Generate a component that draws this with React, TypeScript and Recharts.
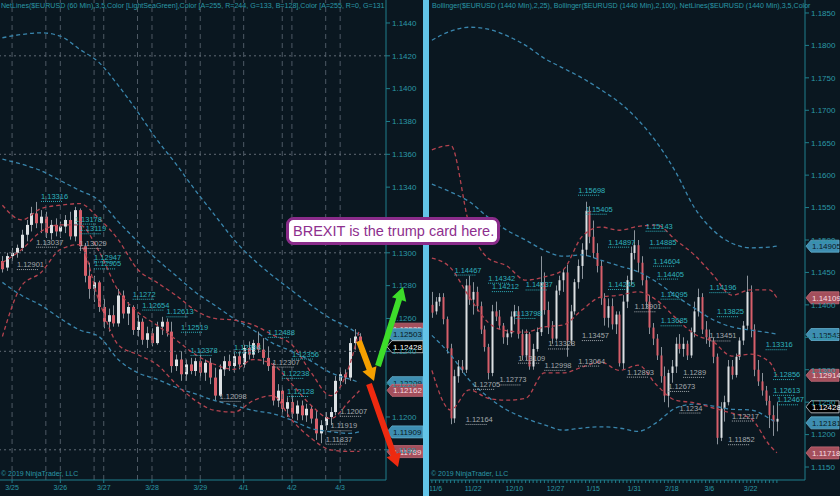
import React from 'react'
import { ComposedChart, Bar, Line, XAxis, YAxis, ReferenceLine, ReferenceDot } from 'recharts'

const BG = '#0a1720'
const TEAL = '#2a97a6'
const AXIS = '#1f7f8c'
const GREY_TXT = '#a3a8ad'
const FONT = '"Liberation Sans", Arial, sans-serif'

// ---- 60 min panel (prices as pips above 1.1100), [open, high, low, close]
const leftOhlc = [
  [195, 198, 188, 190], [191, 200, 189, 198], [198, 203, 195, 200], [200, 205, 197, 203],
  [203, 214, 201, 211], [211, 220, 207, 217], [217, 228, 213, 224], [224, 231, 215, 218],
  [218, 226, 212, 222], [222, 225, 209, 212], [212, 220, 208, 217], [217, 221, 210, 213],
  [213, 219, 209, 216], [216, 223, 212, 220], [220, 225, 208, 210], [210, 228, 207, 226],
  [226, 227, 201, 204], [204, 206, 182, 186], [186, 194, 172, 178], [178, 186, 170, 182],
  [182, 183, 164, 167], [167, 172, 154, 158], [158, 166, 152, 162], [162, 168, 155, 157],
  [157, 178, 155, 174], [174, 177, 160, 163], [163, 170, 156, 167], [167, 168, 150, 153],
  [153, 162, 149, 158], [158, 160, 144, 147], [147, 155, 142, 151], [151, 154, 143, 145],
  [145, 158, 144, 155], [155, 161, 150, 158], [158, 160, 149, 152], [152, 158, 127, 131],
  [131, 138, 128, 135], [135, 140, 122, 126], [126, 135, 122, 132], [132, 136, 126, 128],
  [128, 136, 125, 134], [134, 138, 124, 127], [127, 135, 122, 133], [133, 136, 120, 124],
  [124, 130, 110, 113], [113, 132, 112, 129], [129, 137, 125, 134], [134, 138, 128, 131],
  [131, 139, 127, 137], [137, 140, 129, 132], [132, 144, 130, 142], [142, 146, 135, 138],
  [138, 147, 136, 145], [145, 152, 139, 141], [141, 148, 132, 136], [136, 143, 128, 131],
  [131, 133, 107, 110], [110, 120, 106, 116], [116, 118, 102, 105], [105, 112, 100, 109],
  [109, 113, 99, 102], [102, 110, 98, 107], [107, 110, 98, 101], [101, 108, 97, 105],
  [105, 107, 96, 99], [99, 104, 86, 90], [90, 98, 84, 95], [95, 103, 92, 100],
  [100, 106, 95, 103], [103, 125, 101, 122], [122, 130, 118, 126], [126, 129, 120, 124],
  [124, 148, 122, 145], [145, 153.5, 141, 149], [149, 151, 141, 142.8],
]
const leftSlotCount = 80
const leftDates = ['3/25', '3/26', '3/27', '3/28', '3/29', '4/1', '4/2', '4/3']
const leftDateSlots = [2, 12, 21, 31, 41, 50, 60, 70]
const leftSessionSlots = [9, 19, 28, 38, 48, 58, 67]
const leftBandSlots = [0, 4, 8, 12, 16, 20, 24, 28, 32, 36, 40, 44, 48, 52, 56, 60, 64, 68, 72, 74]
const leftBlueUpper = [331, 333, 334, 332, 324, 316, 302, 286, 269, 254, 238, 223, 208, 196, 186, 177, 168, 160, 154, 150]
const leftBlueMid = [257, 254, 250, 244, 238, 232, 219, 207, 196, 186, 176, 168, 160, 153, 145, 140, 134, 127, 123, 121]
const leftBlueLower = [182, 174, 168, 160, 153, 149, 135, 127, 123, 118, 114, 110, 107, 104, 102, 98, 93, 91, 90, 91]
const leftRedUpper = [229, 220, 227, 229, 230, 221, 208, 190, 182, 174, 165, 160, 159, 156, 150, 144, 127, 113, 132, 153.5]
const leftRedMid = [194, 202, 213, 217, 217, 201, 177, 164, 156, 147, 138, 132, 129, 135, 132, 120, 107, 99, 110, 116]
const leftRedLower = [149, 180, 188, 202, 205, 171, 144, 138, 132, 120, 110, 104, 103, 110, 113, 98, 87, 80, 79, 79]
const leftTicks = [1.118, 1.12, 1.122, 1.124, 1.126, 1.128, 1.13, 1.132, 1.134, 1.136, 1.138, 1.14, 1.142, 1.144]
const leftGrid = [1.142, 1.136, 1.13, 1.124, 1.118]
const leftTags: [number, string][] = [
  [1.12535, 'red'], [1.12503, 'blue'], [1.12428, 'black'], [1.12209, 'blue'],
  [1.12162, 'red'], [1.11909, 'blue'], [1.11789, 'red'],
]
const leftNotes: [number, number, string][] = [
  [8, 1.13316, 'teal'], [15, 1.13178, 'teal'], [16, 1.13119, 'teal'], [19, 1.12947, 'teal'],
  [19, 1.12905, 'teal'], [27, 1.1272, 'teal'], [29, 1.12654, 'teal'], [34, 1.12613, 'teal'],
  [37, 1.12519, 'teal'], [39, 1.12378, 'teal'], [48, 1.12394, 'teal'], [55, 1.12488, 'teal'],
  [58, 1.12238, 'teal'], [60, 1.12356, 'teal'], [59, 1.12128, 'teal'],
  [3, 1.12901, 'grey'], [7, 1.13037, 'grey'], [16, 1.13029, 'grey'], [45, 1.12098, 'grey'],
  [56, 1.12307, 'grey'], [67, 1.11837, 'grey'], [68, 1.11919, 'grey'], [70, 1.12007, 'grey'],
]

// ---- 1440 min panel (pips above 1.1100)
const rightOhlc = [
  [300, 320, 280, 288], [290, 312, 285, 305], [305, 318, 298, 312], [312, 318, 270, 278],
  [278, 282, 225, 233], [233, 240, 116, 125], [125, 200, 118, 190], [190, 215, 180, 205],
  [205, 215, 195, 200], [200, 340, 195, 330], [330, 345, 300, 308], [308, 335, 285, 320],
  [320, 328, 290, 298], [298, 305, 255, 262], [262, 268, 228, 235], [235, 240, 185, 195],
  [195, 300, 190, 290], [290, 305, 275, 282], [282, 292, 262, 268], [268, 272, 240, 250],
  [250, 262, 238, 256], [256, 290, 250, 282], [282, 300, 270, 290], [290, 298, 248, 255],
  [255, 262, 215, 222], [222, 262, 215, 255], [255, 258, 200, 205], [205, 240, 200, 232],
  [232, 265, 228, 258], [258, 375, 252, 335], [335, 350, 285, 292], [292, 305, 255, 265],
  [265, 275, 240, 248], [248, 330, 245, 322], [322, 345, 315, 338], [338, 355, 320, 350],
  [350, 362, 220, 245], [245, 300, 238, 290], [290, 340, 285, 335], [335, 370, 325, 360],
  [360, 395, 340, 385], [385, 459, 375, 445], [445, 452, 395, 405], [405, 430, 372, 380],
  [380, 395, 350, 360], [360, 368, 300, 310], [310, 318, 268, 280], [280, 310, 265, 298],
  [298, 310, 262, 270], [270, 290, 255, 285], [285, 290, 205, 210], [210, 315, 200, 305],
  [305, 345, 295, 338], [338, 390, 330, 380], [380, 415, 370, 392], [392, 400, 350, 365],
  [365, 375, 330, 338], [338, 345, 295, 305], [305, 315, 255, 265], [265, 272, 238, 248],
  [248, 255, 215, 222], [222, 235, 180, 190], [190, 205, 150, 160], [160, 200, 142, 195],
  [195, 215, 180, 205], [205, 250, 195, 240], [240, 255, 225, 232], [232, 250, 220, 240],
  [240, 245, 215, 222], [222, 265, 218, 258], [258, 305, 250, 290], [290, 325, 282, 312],
  [312, 318, 255, 262], [262, 275, 240, 250], [250, 262, 235, 245], [245, 250, 210, 220],
  [220, 225, 85, 95], [95, 150, 90, 140], [140, 160, 120, 150], [150, 215, 145, 205],
  [205, 215, 185, 192], [192, 225, 188, 220], [220, 250, 215, 245], [245, 275, 238, 268],
  [268, 345, 262, 320], [320, 330, 250, 262], [262, 270, 190, 200], [200, 215, 175, 182],
  [182, 195, 160, 168], [168, 175, 145, 152], [152, 160, 110, 130], [130, 145, 98, 120],
  [120, 150, 105, 124.3],
]
const rightSlotCount = 100
const rightDates = ['11/6', '11/22', '12/10', '12/27', '1/15', '1/31', '2/18', '3/6', '3/22']
const rightDateSlots = [1, 11, 22, 33, 43, 54, 64, 74, 85]
const rightBandSlots = [0, 5, 10, 15, 20, 25, 30, 35, 40, 45, 50, 55, 60, 65, 70, 75, 80, 85, 90, 92]
const rightBlueUpper = [708, 722, 728, 725, 715, 700, 680, 665, 650, 632, 612, 585, 550, 505, 450, 415, 395, 388, 389, 390.5]
const rightBlueMid = [486, 474, 459, 435, 415, 400, 384, 375, 377, 369, 360, 351, 335, 314, 295, 277, 266, 261, 257, 255]
const rightBlueLower = [253, 223, 184, 158, 138, 125, 115, 107, 110, 112, 110, 105, 119, 141, 147, 144, 139, 138, 125, 118]
const rightRedUpper = [539, 546, 423, 372, 360, 338, 343, 354, 405, 420, 415, 421, 423, 400, 377, 346, 315, 323, 323, 311]
const rightRedMid = [372, 357, 312, 273, 260, 258, 266, 269, 292, 312, 315, 320, 307, 280, 255, 243, 221, 224, 212, 191]
const rightRedLower = [199, 138, 169, 156, 153, 156, 195, 195, 204, 212, 199, 207, 176, 153, 149, 141, 133, 125, 84, 72]
const rightTicks = [1.115, 1.12, 1.125, 1.13, 1.135, 1.14, 1.145, 1.15, 1.155, 1.16, 1.165, 1.17, 1.175, 1.18, 1.185]
const rightTags: [number, string][] = [
  [1.14905, 'blue'], [1.14109, 'red'], [1.13543, 'blue'], [1.12914, 'red'],
  [1.12428, 'black'], [1.12181, 'blue'], [1.11718, 'red'],
]
const rightNotes: [number, number, string][] = [
  [39, 1.15698, 'teal'], [41, 1.15405, 'teal'], [57, 1.15143, 'teal'], [47, 1.14897, 'teal'],
  [58, 1.14885, 'teal'], [59, 1.14604, 'teal'], [60, 1.14405, 'teal'], [6, 1.14467, 'teal'],
  [15, 1.14342, 'teal'], [16, 1.14212, 'teal'], [25, 1.14237, 'teal'], [47, 1.14245, 'teal'],
  [61, 1.14095, 'teal'], [74, 1.14196, 'teal'], [76, 1.13825, 'teal'], [22, 1.13798, 'teal'],
  [61, 1.13685, 'teal'], [89, 1.13316, 'teal'], [91, 1.12856, 'teal'], [91, 1.12613, 'teal'],
  [92, 1.12467, 'teal'],
  [54, 1.13901, 'grey'], [52, 1.12893, 'grey'], [67, 1.1289, 'grey'], [63, 1.12673, 'grey'],
  [66, 1.1234, 'grey'], [80, 1.12217, 'grey'], [79, 1.11852, 'grey'], [74, 1.13451, 'grey'],
  [30, 1.12998, 'grey'], [39, 1.13064, 'grey'], [23, 1.13109, 'grey'], [18, 1.12773, 'grey'],
  [11, 1.12705, 'grey'], [9, 1.12164, 'grey'], [40, 1.13457, 'grey'], [31, 1.13328, 'grey'],
]

const pip = (v: number) => 1.11 + v / 10000

function buildRows(ohlc: number[][], slots: number, bandSlots: number[], bands: Record<string, number[]>) {
  const rows: any[] = []
  for (let i = 0; i < slots; i++) {
    const row: any = { i }
    const b = ohlc[i]
    if (b) {
      row.o = pip(b[0]); row.h = pip(b[1]); row.l = pip(b[2]); row.c = pip(b[3])
      row.range = [row.l, row.h]
    }
    const k = bandSlots.indexOf(i)
    if (k >= 0) for (const key in bands) row[key] = pip(bands[key][k])
    rows.push(row)
  }
  return rows
}

const leftRows = buildRows(leftOhlc, leftSlotCount, leftBandSlots, {
  bu: leftBlueUpper, bm: leftBlueMid, bl: leftBlueLower, ru: leftRedUpper, rm: leftRedMid, rl: leftRedLower,
})
const rightRows = buildRows(rightOhlc, rightSlotCount, rightBandSlots, {
  bu: rightBlueUpper, bm: rightBlueMid, bl: rightBlueLower, ru: rightRedUpper, rm: rightRedMid, rl: rightRedLower,
})

const candleShape = (bodyW: number) => (props: any) => {
  const { x, y, width, height } = props
  const d = props.payload ?? props
  if (!d || d.o == null || !isFinite(y) || !isFinite(height)) return <g />
  const top = Math.min(y, y + height)
  const span = Math.abs(height)
  const k = d.h - d.l > 0 ? span / (d.h - d.l) : 0
  const py = (v: number) => top + (d.h - v) * k
  const cx = Math.round(x + width / 2) + 0.5
  const up = d.c >= d.o
  const bTop = py(Math.max(d.o, d.c))
  const bBot = py(Math.min(d.o, d.c))
  return (
    <g>
      <line x1={cx} x2={cx} y1={top} y2={top + span} stroke="#8b939b" strokeWidth={1} />
      <rect x={cx - bodyW / 2} y={bTop} width={bodyW} height={Math.max(1, bBot - bTop)}
        fill={up ? '#dde1e4' : '#d75f6a'} />
    </g>
  )
}

const tagColors: Record<string, { fill: string; text: string; stroke: string }> = {
  red: { fill: '#a44f5c', text: '#f6dde0', stroke: '#c46b77' },
  blue: { fill: '#3e8eb1', text: '#0a1822', stroke: '#62aecb' },
  black: { fill: '#000000', text: '#ffffff', stroke: '#cfd4d8' },
}

const tagLabel = (price: number, kind: string, w: number) => (p: any) => {
  const vb = p.viewBox
  if (!vb) return null
  const x0 = vb.x + vb.width
  const y = vb.y
  const s = tagColors[kind]
  return (
    <g>
      <path d={`M${x0 + 1},${y} L${x0 + 6},${y - 6} L${x0 + w},${y - 6} L${x0 + w},${y + 6} L${x0 + 6},${y + 6} Z`}
        fill={s.fill} stroke={s.stroke} strokeWidth={0.8} />
      <text x={x0 + 7} y={y + 3} fill={s.text} fontSize={8} fontFamily={FONT}>{price.toFixed(5)}</text>
    </g>
  )
}

const noteShape = (value: number, kind: string) => (p: any) => {
  const { cx, cy } = p
  if (!isFinite(cx) || !isFinite(cy)) return <g />
  const col = kind === 'teal' ? '#2fb1bd' : GREY_TXT
  return (
    <g>
      <text x={cx} y={cy - 2} fill={col} fontSize={7.5} fontFamily={FONT}>{String(value)}</text>
      <line x1={cx} x2={cx + 21} y1={cy + 0.5} y2={cy + 0.5} stroke={col} strokeDasharray="1 1" strokeWidth={1} />
    </g>
  )
}

const RightDateTick = (p: any) => {
  const k = rightDateSlots.indexOf(p.payload?.value)
  if (k < 0) return <g />
  return (
    <text x={p.x} y={p.y + 6} textAnchor="middle" fill={TEAL} fontSize={7} fontFamily={FONT}>{rightDates[k]}</text>
  )
}

const bandLine = (key: string, color: string) => (
  <Line key={key} dataKey={key} stroke={color} strokeWidth={1.3} strokeDasharray="4 3" dot={false}
    activeDot={false} connectNulls type="monotone" isAnimationActive={false} />
)

function Arrow({ x1, y1, x2, y2, color }: { x1: number; y1: number; x2: number; y2: number; color: string }) {
  const dx = x2 - x1, dy = y2 - y1
  const len = Math.hypot(dx, dy)
  const ux = dx / len, uy = dy / len
  const nx = -uy, ny = ux
  const head = 13, hw = 7.5, sw = 3
  const bx = x2 - ux * head, by = y2 - uy * head
  const pts = [
    [x1 + nx * sw, y1 + ny * sw], [bx + nx * sw, by + ny * sw], [bx + nx * hw, by + ny * hw], [x2, y2],
    [bx - nx * hw, by - ny * hw], [bx - nx * sw, by - ny * sw], [x1 - nx * sw, y1 - ny * sw],
  ]
  return <polygon points={pts.map((q) => q.join(',')).join(' ')} fill={color} />
}

export default function App() {
  const tickStyle = { fill: TEAL, fontSize: 8, fontFamily: FONT }
  const legendStyle: React.CSSProperties = {
    position: 'absolute', top: 1, whiteSpace: 'nowrap', color: TEAL, fontSize: 7.1, fontFamily: FONT, lineHeight: '10px',
  }
  return (
    <div style={{ position: 'absolute', left: 0, top: 0, width: 840, height: 496, background: BG, overflow: 'hidden' }}>
      <div style={{ position: 'absolute', left: 0, top: 0 }}>
        <ComposedChart width={424} height={496} data={leftRows} margin={{ top: 0, right: 0, bottom: 0, left: 0 }}>
          <XAxis dataKey="i" ticks={leftDateSlots} interval={0} height={16} stroke={AXIS} tickSize={3}
            tick={{ fill: TEAL, fontSize: 7, fontFamily: FONT }}
            tickFormatter={(v) => leftDates[leftDateSlots.indexOf(v)] ?? ''} />
          <YAxis orientation="right" width={38} type="number" domain={[1.11616, 1.1454]} allowDataOverflow
            ticks={leftTicks} interval={0} stroke={AXIS} tickSize={4} tick={tickStyle}
            tickFormatter={(v) => Number(v).toFixed(4)} />
          {leftDateSlots.map((s) => (
            <ReferenceLine key={'d' + s} x={s} stroke="#4e5964" strokeDasharray="5 4" />
          ))}
          {leftSessionSlots.map((s) => (
            <ReferenceLine key={'s' + s} x={s} stroke="#4e5964" strokeDasharray="5 4" />
          ))}
          {leftGrid.map((g) => (
            <ReferenceLine key={'g' + g} y={g} stroke="#5f6a74" strokeDasharray="2 3" />
          ))}
          {bandLine('bu', '#3a86ad')}
          {bandLine('bm', '#3a86ad')}
          {bandLine('bl', '#3a86ad')}
          {bandLine('ru', '#b4434f')}
          {bandLine('rm', '#b4434f')}
          {bandLine('rl', '#b4434f')}
          <Bar dataKey="range" shape={candleShape(3)} isAnimationActive={false} />
          {leftNotes.map(([s, v, k], n) => (
            <ReferenceDot key={'n' + n} x={s} y={v} r={0} shape={noteShape(v, k)} />
          ))}
          {leftTags.map(([p, k]) => (
            <ReferenceLine key={'t' + p} y={p} stroke="none" label={tagLabel(p, k, 37)} />
          ))}
        </ComposedChart>
      </div>

      <div style={{ position: 'absolute', left: 423, top: 0, width: 6, height: 496, background: '#62c4e8' }} />

      <div style={{ position: 'absolute', left: 430, top: 0 }}>
        <ComposedChart width={410} height={496} data={rightRows} margin={{ top: 0, right: 0, bottom: 0, left: 0 }}>
          <XAxis dataKey="i" ticks={rightRows.slice(0, rightOhlc.length).map((r) => r.i)} interval={0} height={16}
            stroke={AXIS} tickSize={3} tick={<RightDateTick />} />
          <YAxis orientation="right" width={35} type="number" domain={[1.113, 1.187]} allowDataOverflow
            ticks={rightTicks} interval={0} stroke={AXIS} tickSize={4} tick={tickStyle}
            tickFormatter={(v) => Number(v).toFixed(4)} />
          {bandLine('bu', '#3a86ad')}
          {bandLine('bm', '#3a86ad')}
          {bandLine('bl', '#3a86ad')}
          {bandLine('ru', '#b4434f')}
          {bandLine('rm', '#b4434f')}
          {bandLine('rl', '#b4434f')}
          <Bar dataKey="range" shape={candleShape(2)} isAnimationActive={false} />
          {rightNotes.map(([s, v, k], n) => (
            <ReferenceDot key={'n' + n} x={s} y={v} r={0} shape={noteShape(v, k)} />
          ))}
          {rightTags.map(([p, k]) => (
            <ReferenceLine key={'t' + p} y={p} stroke="none" label={tagLabel(p, k, 34)} />
          ))}
        </ComposedChart>
      </div>

      <div style={{ ...legendStyle, left: 1 }}>
        NetLines($EURUSD (60 Min),3,5,Color [LightSeaGreen],Color [A=255, R=244, G=133, B=128],Color [A=255, R=0, G=131
      </div>
      <div style={{ ...legendStyle, left: 432 }}>
        Bollinger($EURUSD (1440 Min),2,25), Bollinger($EURUSD (1440 Min),2,100), NetLines($EURUSD (1440 Min),3,5,Color
      </div>
      <div style={{ position: 'absolute', left: 1, top: 470, color: TEAL, fontSize: 7, fontFamily: FONT }}>
        © 2019 NinjaTrader, LLC
      </div>
      <div style={{ position: 'absolute', left: 431, top: 470, color: TEAL, fontSize: 7, fontFamily: FONT }}>
        © 2019 NinjaTrader, LLC
      </div>

      <svg width={840} height={496} style={{ position: 'absolute', left: 0, top: 0, pointerEvents: 'none' }}>
        <Arrow x1={378} y1={366} x2={403} y2={287} color="#3ddc2a" />
        <Arrow x1={359} y1={341} x2={374} y2={381} color="#f5a000" />
        <Arrow x1={369} y1={384} x2={398} y2={467} color="#ee2a10" />
        <rect x={287.5} y={218.5} width={211} height={25} rx={6} fill="#ffffff" stroke="#8a2c8a" strokeWidth={3} />
        <text x={293} y={236} fill="#8e2f8e" fontSize={14.5} fontFamily={FONT}>BREXIT is the trump card here.</text>
      </svg>
    </div>
  )
}
